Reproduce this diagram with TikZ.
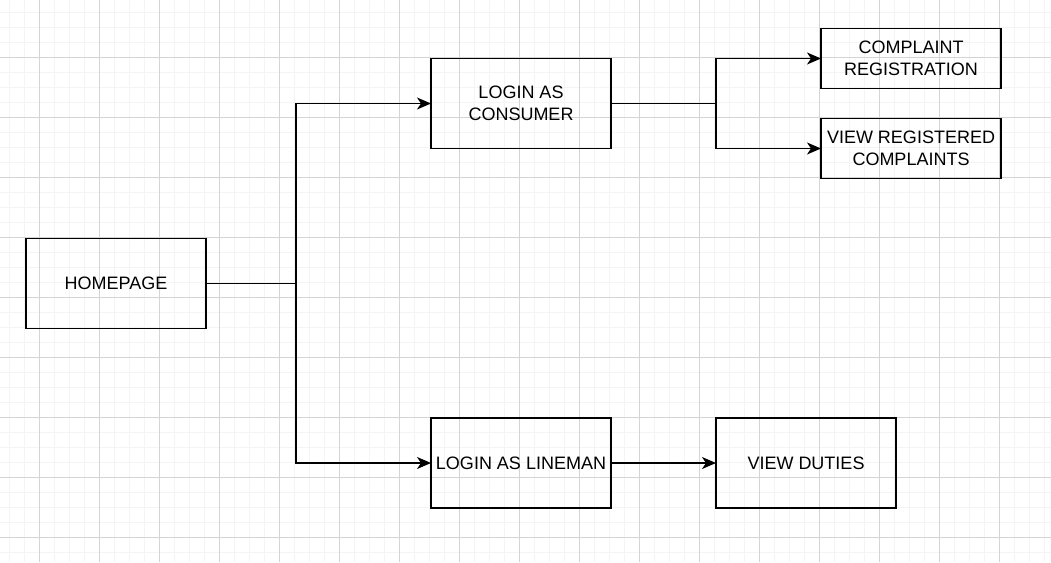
\documentclass[tikz,border=0pt]{standalone}
\usepackage{fontspec}
\setmainfont{Liberation Sans}
\usetikzlibrary{positioning,arrows.meta}
\definecolor{gridmajor}{RGB}{212,212,212}
\definecolor{gridminor}{RGB}{244,244,244}
\tikzset{
  box/.style={draw, line width=1.5pt, minimum width=180pt, minimum height=90pt,
    align=center, inner sep=2pt, outer sep=0pt, font=\fontsize{18}{22}\selectfont},
  smallbox/.style={box, minimum height=60pt},
  link/.style={line width=1.3pt},
  arrowlink/.style={link, -{Stealth[length=14pt,width=12pt,inset=4pt]}},
}
\begin{document}
\begin{tikzpicture}[x=1pt,y=-1pt]
\useasboundingbox (0,0) rectangle (1051,562);
% grid
\foreach \gx in {9,24,...,1051} \draw[gridminor,line width=0.8pt] (\gx,0) -- (\gx,562);
\foreach \gy in {12,27,...,562} \draw[gridminor,line width=0.8pt] (0,\gy) -- (1051,\gy);
\foreach \gx in {39,99,...,1051} \draw[gridmajor,line width=0.8pt] (\gx,0) -- (\gx,562);
\foreach \gy in {57,117,...,562} \draw[gridmajor,line width=0.8pt] (0,\gy) -- (1051,\gy);

\node[box] (home) at (116,283.5) {HOMEPAGE};
\node[box] (consumer) at (521,103.5) {LOGIN AS\\CONSUMER};
\node[box] (lineman) at (521,463) {LOGIN AS LINEMAN};
\node[box, right=105pt of lineman] (duties) {VIEW DUTIES};
\node[smallbox] (complaint) at (911,58.5) {COMPLAINT\\REGISTRATION};
\node[smallbox, below=30pt of complaint] (viewreg) {VIEW REGISTERED\\COMPLAINTS};

\coordinate (split1) at (296,283.5);
\coordinate (split2) at (716,103.5);

\draw[link] (home) -- (split1);
\draw[arrowlink] (split1) |- (consumer);
\draw[arrowlink] (split1) |- (lineman);
\draw[link] (consumer) -- (split2);
\draw[arrowlink] (split2) |- (complaint);
\draw[arrowlink] (split2) |- (viewreg);
\draw[arrowlink] (lineman) -- (duties);

\end{tikzpicture}
\end{document}
